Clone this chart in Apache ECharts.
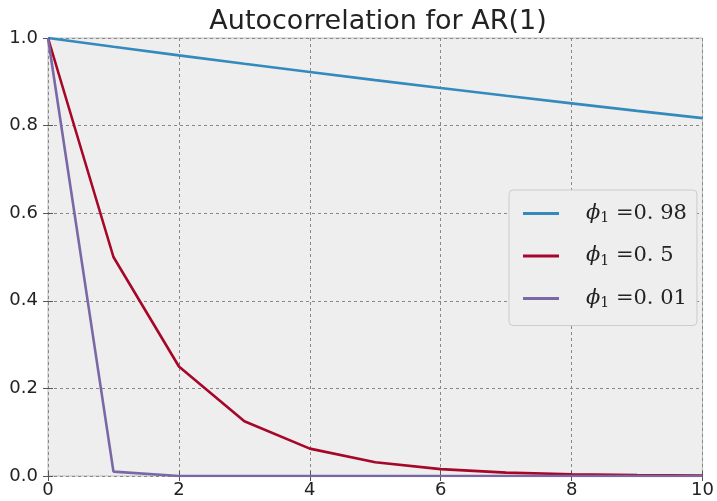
<!DOCTYPE html>
<html><head><meta charset="utf-8">
<script src="https://cdn.jsdelivr.net/npm/echarts@6/dist/echarts.min.js"></script>
<style>html,body{margin:0;padding:0;background:#fff}#c{width:717px;height:501px}</style>
</head><body><div id="c"></div>
<script>
var lags = [0,1,2,3,4,5,6,7,8,9,10];
var acf098 = [1.0,0.98,0.9604,0.9412,0.9224,0.9039,0.8858,0.8681,0.8508,0.8337,0.8171];
var acf05 = [1.0,0.5,0.25,0.125,0.0625,0.03125,0.0156,0.0078,0.0039,0.0020,0.0010];
var acf001 = [1.0,0.01,0.0001,0.000001,0,0,0,0,0,0,0];
var xTicks = [0,2,4,6,8,10];
var yTicks = [0.0,0.2,0.4,0.6,0.8,1.0];
var names = ['phi098','phi05','phi001'];
var labels = {phi098:'0. 98', phi05:'0. 5', phi001:'0. 01'};
var colors = ['#348ABD','#A60628','#7A68A6'];
function pairs(ys){return lags.map(function(x,i){return [x,ys[i]];});}
var chart = echarts.init(document.getElementById('c'));
var axisCommon = {
  axisLine:{show:false},
  axisTick:{show:true,inside:true,length:5,lineStyle:{color:'#555',width:1}}
};
chart.setOption({
  backgroundColor:'#ffffff',
  animation:false,
  title:{text:'Autocorrelation for AR(1)',left:373,top:3,textAlign:'center',
    textStyle:{fontFamily:'DejaVu Sans',fontSize:27,fontWeight:'normal',color:'#222'}},
  grid:{left:48,right:12,top:38,bottom:25,show:true,backgroundColor:'#eeeeee',borderColor:'#bcbcbc',borderWidth:1},
  legend:{
    orient:'vertical',left:509,top:190,
    padding:[13,10,15,14],itemGap:20,itemWidth:36,itemHeight:3,icon:'rect',
    backgroundColor:'#eeeeee',borderColor:'#cccccc',borderWidth:1,borderRadius:4,
    data:names,
    formatter:function(n){return '{sp|}{i|ϕ}{s|1}{n| =' + labels[n] + '}';},
    textStyle:{fontFamily:'DejaVu Serif',fontSize:21,color:'#222',
      rich:{
        sp:{width:22},
        i:{fontFamily:'DejaVu Serif',fontStyle:'italic',fontSize:21,color:'#222'},
        s:{fontFamily:'DejaVu Serif',fontSize:14,color:'#222',padding:[10,0,0,0]},
        n:{fontFamily:'DejaVu Serif',fontSize:21,color:'#222'}
      }}
  },
  xAxis:[
    Object.assign({type:'value',min:0,max:10,interval:2,position:'bottom',
      axisLabel:{fontFamily:'DejaVu Sans',fontSize:18,color:'#222',margin:5},
      splitLine:{show:true,lineStyle:{color:'#888',type:[3,3],width:1}}},axisCommon),
    Object.assign({type:'value',min:0,max:10,interval:2,position:'top',
      axisLabel:{show:false},splitLine:{show:false}},axisCommon)
  ],
  yAxis:[
    Object.assign({type:'value',min:0,max:1,interval:0.2,position:'left',
      axisLabel:{fontFamily:'DejaVu Sans',fontSize:18,color:'#222',margin:10,
        formatter:function(v){return v.toFixed(1);}},
      splitLine:{show:true,lineStyle:{color:'#888',type:[3,3],width:1}}},axisCommon),
    Object.assign({type:'value',min:0,max:1,interval:0.2,position:'right',
      axisLabel:{show:false},splitLine:{show:false}},axisCommon)
  ],
  series:[
    {name:'phi098',type:'line',data:pairs(acf098),showSymbol:false,lineStyle:{width:2.6,color:colors[0]},itemStyle:{color:colors[0]}},
    {name:'phi05',type:'line',data:pairs(acf05),showSymbol:false,lineStyle:{width:2.6,color:colors[1]},itemStyle:{color:colors[1]}},
    {name:'phi001',type:'line',data:pairs(acf001),showSymbol:false,lineStyle:{width:2.6,color:colors[2]},itemStyle:{color:colors[2]}}
  ]
});
</script></body></html>
